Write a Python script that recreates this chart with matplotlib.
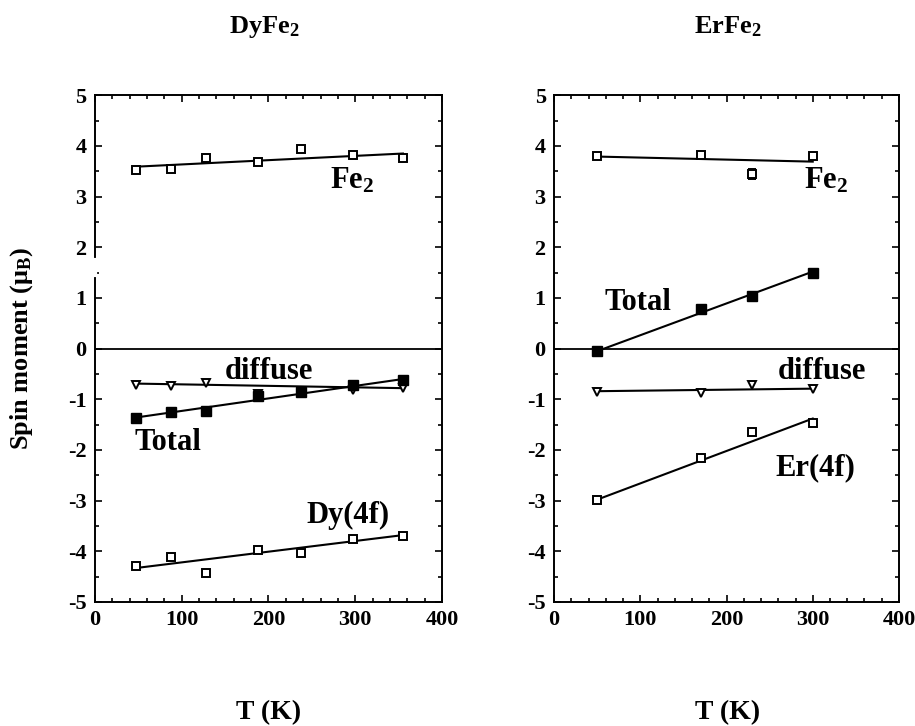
import matplotlib
matplotlib.use("Agg")
import matplotlib.pyplot as plt
from matplotlib.ticker import MultipleLocator

plt.rcParams['font.family'] = ['Liberation Serif', 'DejaVu Serif']
plt.rcParams['font.weight'] = 'bold'
plt.rcParams['axes.unicode_minus'] = False
plt.rcParams['mathtext.fontset'] = 'custom'
plt.rcParams['mathtext.rm'] = 'Liberation Serif:bold'
plt.rcParams['mathtext.it'] = 'Liberation Serif:bold'
plt.rcParams['mathtext.bf'] = 'Liberation Serif:bold'

# ---- DyFe2 data ----
dy_T = [47, 88, 128, 188, 237, 297, 355]
dy_fe2 = [3.52, 3.54, 3.77, 3.69, 3.93, 3.83, 3.77]
dy_diff = [-0.71, -0.73, -0.67, -0.90, -0.84, -0.81, -0.77]
dy_total = [-1.36, -1.26, -1.23, -0.93, -0.85, -0.71, -0.61]
dy_4f = [-4.28, -4.12, -4.43, -3.98, -4.03, -3.76, -3.69]
dy_fit_T = [47, 355]
dy_fit_fe2 = [3.59, 3.85]
dy_fit_diff = [-0.69, -0.78]
dy_fit_total = [-1.36, -0.60]
dy_fit_4f = [-4.33, -3.68]

# ---- ErFe2 data ----
er_T = [50, 170, 230, 300]
er_fe2 = [3.81, 3.83, 3.45, 3.81]
er_fe2_err = [0.0, 0.0, 0.10, 0.0]
er_diff = [-0.85, -0.87, -0.72, -0.79]
er_total = [-0.04, 0.79, 1.04, 1.50]
er_4f = [-2.98, -2.16, -1.64, -1.46]
er_fit_T = [50, 300]
er_fit_fe2 = [3.79, 3.69]
er_fit_diff = [-0.84, -0.79]
er_fit_total = [-0.05, 1.52]
er_fit_4f = [-2.98, -1.38]

fig = plt.figure(figsize=(9.15, 7.26), dpi=100)
axL = fig.add_axes([0.1038, 0.1708, 0.3792, 0.698])
axR = fig.add_axes([0.6055, 0.1708, 0.3770, 0.698])

lab_fs = 22
def style(ax):
    ax.set_xlim(0, 400)
    ax.set_ylim(-5, 5)
    ax.xaxis.set_major_locator(MultipleLocator(100))
    ax.xaxis.set_minor_locator(MultipleLocator(20))
    ax.yaxis.set_major_locator(MultipleLocator(1))
    ax.yaxis.set_minor_locator(MultipleLocator(0.5))
    ax.tick_params(which='both', direction='in', top=True, right=True, width=1.2)
    ax.tick_params(which='major', length=5, labelsize=16, pad=6)
    ax.tick_params(which='minor', length=3)
    for s in ax.spines.values():
        s.set_linewidth(1.4)
    for lbl in ax.get_xticklabels() + ax.get_yticklabels():
        lbl.set_fontweight('bold')
    ax.axhline(0, color='black', lw=1.3)

ms = 6
mew = 1.4
def draw(ax, T, fitT, series, fits, kinds):
    for y, f, k in zip(series, fits, kinds):
        ax.plot(fitT, f, 'k-', lw=1.5)
        if k == 'open':
            ax.plot(T, y, 's', mfc='white', mec='black', ms=ms, mew=mew)
        elif k == 'filled':
            ax.plot(T, y, 's', mfc='black', mec='black', ms=ms + 0.5)
        else:
            ax.plot(T, y, 'v', mfc='white', mec='black', ms=ms, mew=mew)

draw(axL, dy_T, dy_fit_T,
     [dy_fe2, dy_diff, dy_total, dy_4f],
     [dy_fit_fe2, dy_fit_diff, dy_fit_total, dy_fit_4f],
     ['open', 'tri', 'filled', 'open'])
style(axL)
# small gap in the left spine as in the original
axL.plot([0, 0], [1.45, 1.75], color='white', lw=3, clip_on=False, zorder=5)
axL.text(271, 3.16, r'Fe$_2$', fontsize=lab_fs, fontweight='bold', va='baseline')
axL.text(150, -0.59, 'diffuse', fontsize=lab_fs, fontweight='bold', va='baseline')
axL.text(46, -2.0, 'Total', fontsize=lab_fs, fontweight='bold', va='baseline')
axL.text(244, -3.45, 'Dy(4f)', fontsize=lab_fs, fontweight='bold', va='baseline')

axR.plot(er_fit_T, er_fit_fe2, 'k-', lw=1.5)
axR.errorbar(er_T, er_fe2, yerr=er_fe2_err, fmt='s', mfc='white', mec='black',
             ecolor='black', ms=ms, mew=mew, capsize=3)
draw(axR, er_T, er_fit_T,
     [er_total, er_diff, er_4f],
     [er_fit_total, er_fit_diff, er_fit_4f],
     ['filled', 'tri', 'open'])
style(axR)
axR.text(290, 3.16, r'Fe$_2$', fontsize=lab_fs, fontweight='bold', va='baseline')
axR.text(59, 0.77, 'Total', fontsize=lab_fs, fontweight='bold', va='baseline')
axR.text(259, -0.59, 'diffuse', fontsize=lab_fs, fontweight='bold', va='baseline')
axR.text(257, -2.49, 'Er(4f)', fontsize=lab_fs, fontweight='bold', va='baseline')

fig.text(0.024, 0.52, r'Spin moment ($\mu_{\rm B}$)', fontsize=19, fontweight='bold',
         rotation=90, ha='center', va='center')
fig.text(0.2885, 0.963, r'DyFe$_2$', fontsize=19, fontweight='bold', ha='center', va='center')
fig.text(0.795, 0.963, r'ErFe$_2$', fontsize=19, fontweight='bold', ha='center', va='center')
fig.text(0.293, 0.019, 'T (K)', fontsize=20, fontweight='bold', ha='center', va='center')
fig.text(0.795, 0.019, 'T (K)', fontsize=20, fontweight='bold', ha='center', va='center')

fig.savefig('out.png', dpi=100, facecolor='white')
